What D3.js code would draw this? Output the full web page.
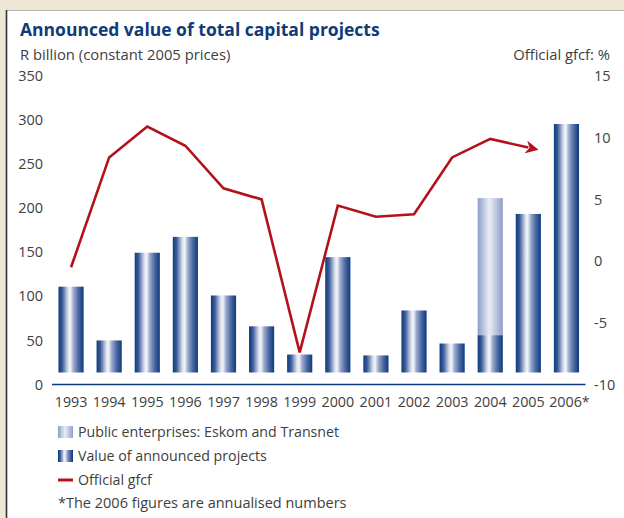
<!DOCTYPE html>
<html>
<head>
<meta charset="utf-8">
<script src="https://cdn.jsdelivr.net/npm/d3@7"></script>
<style>
  body { margin: 0; background: #efe7d6; }
  svg { display: block; font-family: "Open Sans", sans-serif; }
</style>
</head>
<body>
<div id="chart"></div>
<script>
// data
var years = ["1993", "1994", "1995", "1996", "1997", "1998", "1999", "2000", "2001", "2002", "2003", "2004", "2005", "2006"];
var yearLabels = ["1993", "1994", "1995", "1996", "1997", "1998", "1999", "2000", "2001", "2002", "2003", "2004", "2005", "2006*"];
var projects = [111, 50, 149.5, 167.5, 101, 66, 34, 144.5, 33, 84, 46.5, 56, 193.5, 295.5];
var publicEnterprises = [0, 0, 0, 0, 0, 0, 0, 0, 0, 0, 0, 155.5, 0, 0];
var gfcfYears = ["1993", "1994", "1995", "1996", "1997", "1998", "1999", "2000", "2001", "2002", "2003", "2004", "2005"];
var gfcf = [-0.5, 8.4, 10.9, 9.35, 5.9, 5.0, -7.4, 4.5, 3.6, 3.8, 8.4, 9.9, 9.2];
var leftTicks = [0, 50, 100, 150, 200, 250, 300, 350];
var rightTicks = [-10, -5, 0, 5, 10, 15];

var width = 624;
var height = 518;
var navy = "#0c3a7c";
var red = "#b3121c";
var textCol = "#404040";

var svg = d3.select("#chart").append("svg")
    .attr("width", width)
    .attr("height", height)
    .attr("viewBox", [0, 0, width, height]);

var defs = svg.append("defs");

var darkGrad = defs.append("linearGradient").attr("id", "darkBar");
[[0, "#0c3a7c"], [0.15, "#3b5b98"], [0.38, "#d9dfee"], [0.47, "#f5f5f9"], [0.6, "#9aaacc"], [0.8, "#4a67a2"], [1, "#0c3a7c"]]
    .forEach(s => darkGrad.append("stop").attr("offset", s[0]).attr("stop-color", s[1]));

var lightGrad = defs.append("linearGradient").attr("id", "lightBar");
[[0, "#8d9dc8"], [0.45, "#e8ebf5"], [0.55, "#dee2ef"], [1, "#8d9dc8"]]
    .forEach(s => lightGrad.append("stop").attr("offset", s[0]).attr("stop-color", s[1]));

defs.append("filter").attr("id", "blur")
    .attr("x", "-5%").attr("y", "-200%").attr("width", "110%").attr("height", "500%")
    .append("feGaussianBlur").attr("stdDeviation", 2.5);

defs.append("marker")
    .attr("id", "arrow")
    .attr("viewBox", "0 0 10 10")
    .attr("refX", 2)
    .attr("refY", 5)
    .attr("markerWidth", 5)
    .attr("markerHeight", 5)
    .attr("markerUnits", "strokeWidth")
    .attr("orient", "auto")
    .append("path")
    .attr("d", "M0,0 L10,5 L0,10 L3,5 Z")
    .attr("fill", red);

// panel
svg.append("rect")
    .attr("x", 6).attr("y", 10)
    .attr("width", width).attr("height", height)
    .attr("fill", "#fff");
svg.append("line")
    .attr("x1", 6).attr("x2", width).attr("y1", 10.5).attr("y2", 10.5)
    .attr("stroke", "#b9b3a6").attr("stroke-width", 1);
svg.append("line")
    .attr("x1", 6.5).attr("x2", 6.5).attr("y1", 10).attr("y2", height)
    .attr("stroke", "#333").attr("stroke-width", 1.6);

// titles
svg.append("text")
    .attr("x", 20).attr("y", 36)
    .attr("fill", "#0f3b78")
    .attr("font-weight", "bold")
    .attr("font-size", 17.5)
    .text("Announced value of total capital projects");

svg.append("text")
    .attr("x", 20).attr("y", 60)
    .attr("fill", textCol)
    .attr("font-size", 14.8)
    .text("R billion (constant 2005 prices)");

svg.append("text")
    .attr("x", 610).attr("y", 60)
    .attr("text-anchor", "end")
    .attr("fill", textCol)
    .attr("font-size", 14.8)
    .text("Official gfcf: %");

// scales
var x = d3.scaleBand()
    .domain(years)
    .range([52, 585.5])
    .paddingInner(0.34)
    .paddingOuter(0.17);

var yL = d3.scaleLinear().domain([0, 350]).range([384.5, 76]);
var yR = d3.scaleLinear().domain([-10, 15]).range([384.5, 76]);
var barGap = 12;

// axes
svg.append("g")
    .attr("transform", "translate(43,0)")
    .call(d3.axisLeft(yL).tickValues(leftTicks).tickSize(0).tickPadding(0))
    .call(g => g.select(".domain").remove())
    .call(g => g.selectAll("text").attr("fill", textCol).attr("font-size", 14.5).attr("font-family", "Open Sans"));

svg.append("g")
    .attr("transform", "translate(594,0)")
    .call(d3.axisRight(yR).tickValues(rightTicks).tickSize(0).tickPadding(0).tickFormat(d => String(d)))
    .call(g => g.select(".domain").remove())
    .call(g => g.selectAll("text").attr("fill", textCol).attr("font-size", 14.5).attr("font-family", "Open Sans"));

svg.append("g")
    .attr("transform", `translate(0,${yL(0)})`)
    .call(d3.axisBottom(x).tickSize(0).tickPadding(12).tickFormat((d, i) => yearLabels[i]))
    .call(g => g.select(".domain").remove())
    .call(g => g.selectAll("text").attr("fill", textCol).attr("font-size", 14.3).attr("font-family", "Open Sans")
        .attr("dx", d => d === "2006" ? 3 : 0));

// baseline with soft shadow
svg.append("line")
    .attr("x1", x.range()[0]).attr("x2", x.range()[1])
    .attr("y1", yL(0) + 2).attr("y2", yL(0) + 2)
    .attr("stroke", "#9a9a9a").attr("stroke-width", 4)
    .attr("opacity", 0.45)
    .attr("filter", "url(#blur)");
svg.append("line")
    .attr("x1", x.range()[0]).attr("x2", x.range()[1])
    .attr("y1", yL(0)).attr("y2", yL(0))
    .attr("stroke", navy).attr("stroke-width", 1.6);

// bars
svg.append("g")
    .selectAll("rect")
    .data(years)
    .join("rect")
    .attr("x", d => x(d))
    .attr("width", x.bandwidth())
    .attr("y", (d, i) => yL(projects[i]))
    .attr("height", (d, i) => yL(0) - barGap - yL(projects[i]))
    .attr("fill", "url(#darkBar)");

svg.append("g")
    .selectAll("rect")
    .data(years.filter((d, i) => publicEnterprises[i] > 0))
    .join("rect")
    .attr("x", d => x(d))
    .attr("width", x.bandwidth())
    .attr("y", d => yL(projects[years.indexOf(d)] + publicEnterprises[years.indexOf(d)]))
    .attr("height", d => yL(projects[years.indexOf(d)]) - yL(projects[years.indexOf(d)] + publicEnterprises[years.indexOf(d)]))
    .attr("fill", "url(#lightBar)");

// gfcf line
var line = d3.line()
    .x((d, i) => x(gfcfYears[i]) + x.bandwidth() / 2)
    .y(d => yR(d));

svg.append("path")
    .datum(gfcf)
    .attr("d", line)
    .attr("fill", "none")
    .attr("stroke", red)
    .attr("stroke-width", 2.6)
    .attr("stroke-linejoin", "miter")
    .attr("marker-end", "url(#arrow)");

// legend
var legend = svg.append("g").attr("transform", "translate(58,0)");
var legendItems = [
    {label: "Public enterprises: Eskom and Transnet", kind: "light", y: 432},
    {label: "Value of announced projects", kind: "dark", y: 456},
    {label: "Official gfcf", kind: "line", y: 480}
];
legendItems.forEach(function (it) {
    if (it.kind === "line") {
        legend.append("line")
            .attr("x1", 0).attr("x2", 15).attr("y1", it.y).attr("y2", it.y)
            .attr("stroke", red).attr("stroke-width", 3);
    } else {
        legend.append("rect")
            .attr("x", 0).attr("y", it.y - 6).attr("width", 15).attr("height", 12)
            .attr("fill", it.kind === "light" ? "url(#lightBar)" : "url(#darkBar)");
    }
    legend.append("text")
        .attr("x", 20).attr("y", it.y).attr("dy", "0.35em")
        .attr("fill", textCol).attr("font-size", 14.2)
        .text(it.label);
});
legend.append("text")
    .attr("x", 0).attr("y", 503).attr("dy", "0.35em")
    .attr("fill", textCol).attr("font-size", 14.5)
    .text("*The 2006 figures are annualised numbers");
</script>
</body>
</html>
